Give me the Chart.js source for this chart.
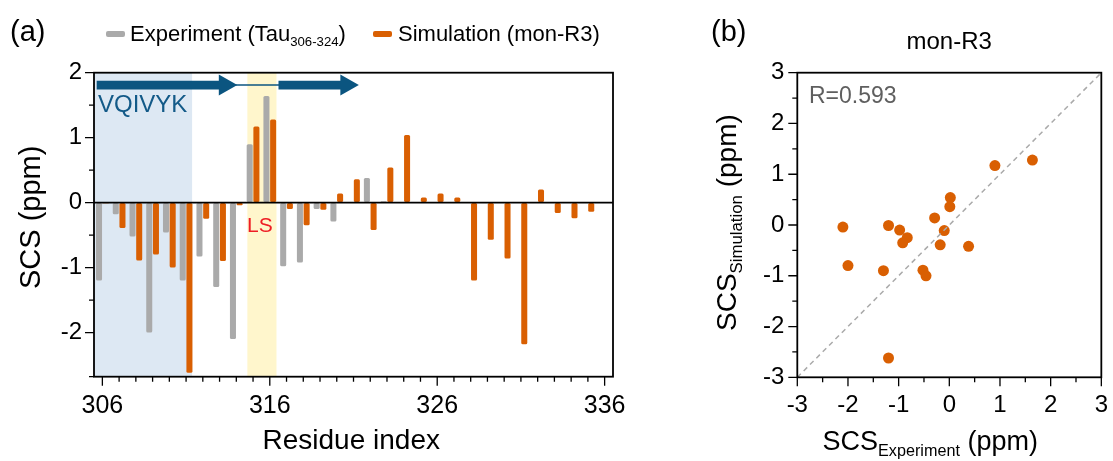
<!DOCTYPE html>
<html><head><meta charset="utf-8">
<script src="https://cdn.jsdelivr.net/npm/chart.js@4.4.0/dist/chart.umd.min.js"></script>
<style>
html,body{margin:0;padding:0;background:#fff;}
#wrap{position:relative;width:1113px;height:461px;overflow:hidden;font-family:"Liberation Sans",Arial,sans-serif;color:#000;background:#fff;}
canvas{position:absolute;left:0;top:0;}
.t{position:absolute;white-space:nowrap;line-height:1;}
.sub{font-size:0.6em;position:relative;top:0.38em;}
.box{position:absolute;height:6px;border-radius:2px;}
</style></head>
<body><div id="wrap">
<canvas id="ca" width="1113" height="461"></canvas>
<canvas id="cb" width="1113" height="461"></canvas>

<div class="t" style="left:10px;top:17px;font-size:29px;">(a)</div>
<div class="box" style="left:106px;top:31px;width:19px;background:#aaaaaa;"></div>
<div class="t" id="legExp" style="left:130px;top:23px;font-size:22px;">Experiment (Tau<span class="sub">306-324</span>)</div>
<div class="box" style="left:373px;top:31px;width:19px;background:#d95f02;"></div>
<div class="t" id="legSim" style="left:398px;top:23px;font-size:22px;">Simulation (mon-R3)</div>

<div class="t" style="left:98px;top:92px;font-size:24px;color:#135a88;">VQIVYK</div>
<div class="t" style="left:247px;top:214px;font-size:21px;color:#ee1c24;">LS</div>

<div class="t" id="yTitleA" style="font-size:29px;">SCS (ppm)</div>
<div class="t" id="xTitleA" style="font-size:28px;">Residue index</div>

<div class="t" style="left:711px;top:17px;font-size:29px;">(b)</div>
<div class="t" id="titleB" style="font-size:24px;">mon-R3</div>
<div class="t" style="left:809px;top:84px;font-size:23px;color:#5f5f5f;">R=0.593</div>
<div class="t" id="yTitleB" style="font-size:28px;">SCS<span class="sub">Simulation</span> (ppm)</div>
<div class="t" id="xTitleB" style="font-size:27px;">SCS<span class="sub">Experiment</span> (ppm)</div>
</div>
<script>
// ---------------- data ----------------
const residues = [306,307,308,309,310,311,312,313,314,315,316,317,318,319,320,321,322,323,324,325,326,327,328,329,330,331,332,333,334,335,336];
const experiment = [-1.2,-0.18,-0.52,-2.0,-0.46,-1.2,-0.83,-1.3,-2.1,0.9,1.64,-0.98,-0.92,-0.1,-0.29,0.01,0.38,0.02,null,null,null,null,null,null,null,null,null,null,null,null,null];
const simulation = [-0.01,-0.39,-0.89,-0.8,-1.0,-2.62,-0.25,-0.9,-0.04,1.17,1.28,-0.1,-0.35,-0.11,0.14,0.36,-0.42,0.54,1.04,0.08,0.14,0.08,-1.2,-0.57,-0.86,-2.18,0.2,-0.16,-0.24,-0.14,null];
const xTickLabelsA = ['306','316','326','336'];
const yTickLabelsA = [-2,-1,0,1,2];
const xyTickLabelsB = [-3,-2,-1,0,1,2,3];
const regionVQIVYK = [305.5, 311.36];
const regionLS = [314.66, 316.4];
const strand1 = [305.66, 314.06];
const strand2 = [316.52, 321.32];
const strandLevel = 1.81;
const identityLine = [{x:-3,y:-3},{x:3,y:3}];

// ---------------- styles ----------------
const GRAY = '#aaaaaa', ORANGE = '#d95f02', NAVY = '#0b5580';
const FONT = '"Liberation Sans", Arial, sans-serif';
const A = {left:94, right:613, top:72.7, bottom:376.7};
const B = {left:797.3, right:1101.7, top:72.7, bottom:377.3};
const W = 1113, H = 461;

function drawTicks(ctx, scale, isX, majorFn, majorLen, minorLen) {
  ctx.save();
  ctx.strokeStyle = '#000'; ctx.lineWidth = 1.3;
  ctx.beginPath();
  scale.ticks.forEach((t, i) => {
    const p = scale.getPixelForTick(i);
    const len = majorFn(t, i) ? majorLen : minorLen;
    if (isX) { ctx.moveTo(p, scale.top); ctx.lineTo(p, scale.top + len); }
    else { ctx.moveTo(scale.right, p); ctx.lineTo(scale.right - len, p); }
  });
  ctx.stroke();
  ctx.restore();
}
function drawFrame(ctx, ca) {
  ctx.save();
  ctx.strokeStyle = '#000'; ctx.lineWidth = 1.8;
  ctx.strokeRect(ca.left, ca.top, ca.right - ca.left, ca.bottom - ca.top);
  ctx.restore();
}
const roundTick = v => Math.round(v * 1000) / 1000;

const panelAPlugin = {
  id: 'panelA',
  beforeDatasetsDraw(chart) {
    const ctx = chart.ctx, x = chart.scales.x, ca = chart.chartArea;
    const px = r => x.getPixelForValue(r - residues[0]);
    ctx.save();
    ctx.fillStyle = '#dde8f3';
    ctx.fillRect(px(regionVQIVYK[0]), ca.top, px(regionVQIVYK[1]) - px(regionVQIVYK[0]), ca.bottom - ca.top);
    ctx.fillStyle = '#fff6cc';
    ctx.fillRect(px(regionLS[0]), ca.top, px(regionLS[1]) - px(regionLS[0]), ca.bottom - ca.top);
    ctx.restore();
  },
  afterDatasetsDraw(chart) {
    const ctx = chart.ctx, x = chart.scales.x, y = chart.scales.y, ca = chart.chartArea;
    const px = r => x.getPixelForValue(r - residues[0]);
    ctx.save();
    ctx.strokeStyle = '#000'; ctx.lineWidth = 1.6;
    ctx.beginPath(); ctx.moveTo(ca.left, y.getPixelForValue(0)); ctx.lineTo(ca.right, y.getPixelForValue(0)); ctx.stroke();
    const yc = y.getPixelForValue(strandLevel);
    const arrow = (s) => {
      const x0 = px(s[0]), x1 = px(s[1]), head = 18.5, sh = 4.4, hh = 10.5;
      ctx.beginPath();
      ctx.moveTo(x0, yc - sh); ctx.lineTo(x1 - head, yc - sh); ctx.lineTo(x1 - head, yc - hh);
      ctx.lineTo(x1, yc); ctx.lineTo(x1 - head, yc + hh); ctx.lineTo(x1 - head, yc + sh);
      ctx.lineTo(x0, yc + sh); ctx.closePath(); ctx.fill();
    };
    ctx.fillStyle = NAVY; ctx.strokeStyle = NAVY;
    arrow(strand1); arrow(strand2);
    ctx.lineWidth = 1.6;
    ctx.beginPath(); ctx.moveTo(px(strand1[1]) - 2, yc); ctx.lineTo(px(strand2[0]) + 1, yc); ctx.stroke();
    ctx.restore();
  },
  afterDraw(chart) {
    const ctx = chart.ctx;
    drawFrame(ctx, chart.chartArea);
    drawTicks(ctx, chart.scales.x, true, (t, i) => xTickLabelsA.includes(String(residues[i])), 9, 5);
    drawTicks(ctx, chart.scales.y, false, t => yTickLabelsA.includes(roundTick(t.value)), 9, 5);
  }
};

new Chart(document.getElementById('ca'), {
  type: 'bar',
  data: {
    labels: residues.map(String),
    datasets: [
      {label: 'Experiment (Tau306-324)', data: experiment, backgroundColor: GRAY, borderRadius: 1.5, borderSkipped: false},
      {label: 'Simulation (mon-R3)', data: simulation, backgroundColor: ORANGE, borderRadius: 1.5, borderSkipped: false}
    ]
  },
  options: {
    responsive: false, animation: false, devicePixelRatio: 1,
    categoryPercentage: 0.8, barPercentage: 0.9,
    layout: {padding: {left: 0, top: A.top, right: W - A.right, bottom: 0}},
    plugins: {legend: {display: false}, tooltip: {enabled: false}},
    scales: {
      x: {
        type: 'category', offset: true,
        grid: {display: true, drawOnChartArea: false, drawTicks: true, tickLength: 9, color: 'rgba(0,0,0,0)'},
        border: {display: false},
        ticks: {autoSkip: false, maxRotation: 0, minRotation: 0, color: '#000', font: {family: FONT, size: 25}, padding: 5,
          callback: (v, i) => xTickLabelsA.includes(String(residues[i])) ? String(residues[i]) : ''},
        afterFit: s => { s.height = H - A.bottom; }
      },
      y: {
        min: -2.68, max: 2,
        grid: {display: true, drawOnChartArea: false, drawTicks: true, tickLength: 9, color: 'rgba(0,0,0,0)'},
        border: {display: false},
        ticks: {stepSize: 0.5, color: '#000', font: {family: FONT, size: 24}, padding: 3,
          callback: v => yTickLabelsA.includes(roundTick(v)) ? String(roundTick(v)) : ''},
        afterFit: s => { s.width = A.left; }
      }
    }
  },
  plugins: [panelAPlugin]
});

const scatterData = experiment.map((e, i) => (e !== null && simulation[i] !== null) ? {x: e, y: simulation[i]} : null).filter(p => p);

const panelBPlugin = {
  id: 'panelB',
  afterDraw(chart) {
    const ctx = chart.ctx;
    drawFrame(ctx, chart.chartArea);
    const isMajor = t => xyTickLabelsB.includes(roundTick(t.value));
    drawTicks(ctx, chart.scales.x, true, isMajor, 9, 5);
    drawTicks(ctx, chart.scales.y, false, isMajor, 9, 5);
  }
};

new Chart(document.getElementById('cb'), {
  type: 'scatter',
  data: {
    datasets: [
      {type: 'line', data: identityLine, borderColor: '#aaaaaa', borderWidth: 1.5, borderDash: [5, 4], pointRadius: 0, fill: false},
      {data: scatterData, backgroundColor: ORANGE, borderWidth: 0, pointRadius: 5.5}
    ]
  },
  options: {
    responsive: false, animation: false, devicePixelRatio: 1,
    layout: {padding: {left: B.left - 60, top: B.top, right: W - B.right, bottom: 0}},
    plugins: {legend: {display: false}, tooltip: {enabled: false}},
    scales: {
      x: {
        type: 'linear', min: -3, max: 3,
        grid: {display: true, drawOnChartArea: false, drawTicks: true, tickLength: 9, color: 'rgba(0,0,0,0)'},
        border: {display: false},
        ticks: {stepSize: 0.5, autoSkip: false, maxRotation: 0, minRotation: 0, color: '#000', font: {family: FONT, size: 24}, padding: 5,
          callback: v => xyTickLabelsB.includes(roundTick(v)) ? String(roundTick(v)) : ''},
        afterFit: s => { s.height = H - B.bottom; }
      },
      y: {
        type: 'linear', min: -3, max: 3,
        grid: {display: true, drawOnChartArea: false, drawTicks: true, tickLength: 9, color: 'rgba(0,0,0,0)'},
        border: {display: false},
        ticks: {stepSize: 0.5, autoSkip: false, color: '#000', font: {family: FONT, size: 24}, padding: 4,
          callback: v => xyTickLabelsB.includes(roundTick(v)) ? String(roundTick(v)) : ''},
        afterFit: s => { s.width = 60; }
      }
    }
  },
  plugins: [panelBPlugin]
});

function place(id, cx, cy, rot) {
  const el = document.getElementById(id);
  const w = el.offsetWidth, h = el.offsetHeight;
  if (rot) {
    el.style.left = (cx - h / 2) + 'px';
    el.style.top = (cy + w / 2) + 'px';
    el.style.transformOrigin = '0 0';
    el.style.transform = 'rotate(-90deg)';
  } else {
    el.style.left = (cx - w / 2) + 'px';
    el.style.top = (cy - h / 2) + 'px';
  }
}
place('yTitleA', 30, 217, true);
place('xTitleA', 351, 440, false);
place('titleB', 949, 41, false);
place('yTitleB', 727, 222, true);
place('xTitleB', 930, 441, false);
</script>
</body></html>
